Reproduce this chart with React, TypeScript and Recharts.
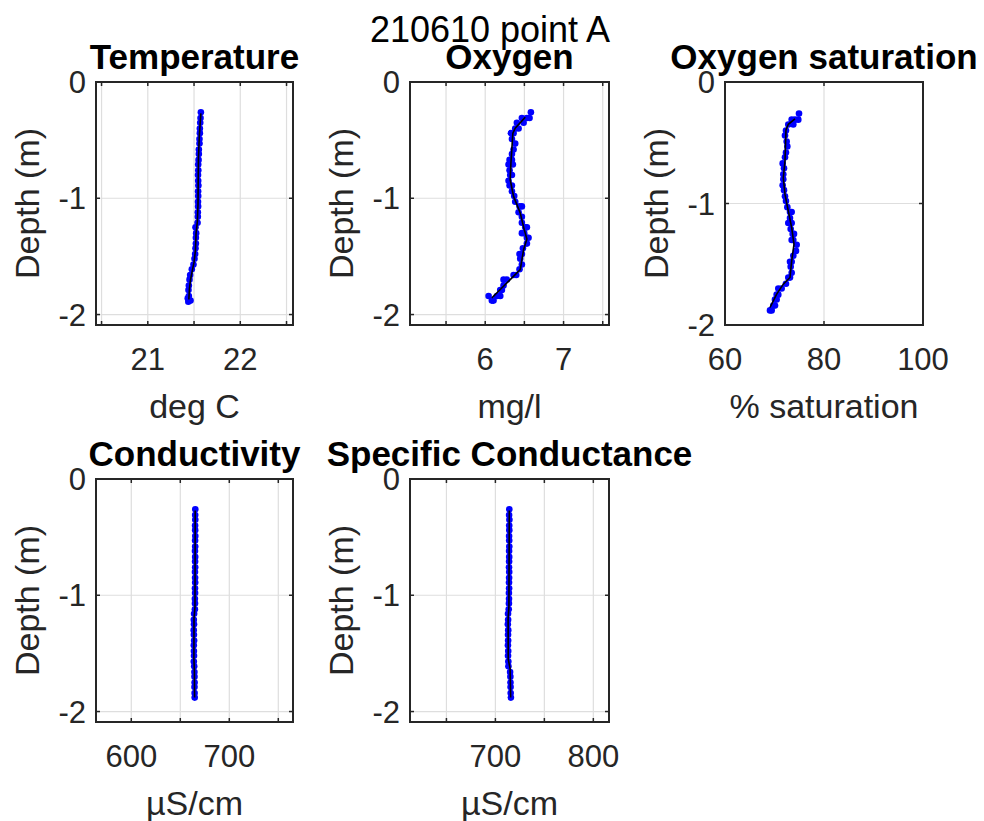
import React from 'react';
import { ScatterChart, Scatter, XAxis, YAxis, CartesianGrid } from 'recharts';

const FONT = '"Liberation Sans", Arial, Helvetica, sans-serif';
const TXT = '#262626';
const DOT = '#0000ff';

// ---------- data ----------
const depths = [-0.26, -0.31, -0.35, -0.40, -0.44, -0.49, -0.53, -0.58, -0.62, -0.67, -0.71, -0.76, -0.80, -0.85, -0.89, -0.94, -0.98, -1.03, -1.07, -1.12, -1.16, -1.21, -1.25, -1.30, -1.34, -1.39, -1.43, -1.48, -1.52, -1.57, -1.61, -1.66, -1.70, -1.75, -1.79, -1.84, -1.88];

const temperature = [21.574, 21.570, 21.567, 21.563, 21.563, 21.559, 21.559, 21.552, 21.552, 21.549, 21.545, 21.546, 21.543, 21.545, 21.547, 21.544, 21.545, 21.543, 21.544, 21.541, 21.541, 21.538, 21.516, 21.523, 21.520, 21.520, 21.516, 21.512, 21.505, 21.494, 21.476, 21.458, 21.451, 21.444, 21.440, 21.444, 21.447];
const tempExtraDepth = [-1.86, -1.88, -1.89];
const tempExtra = [21.432, 21.462, 21.438];
const tempFitDepth = [-0.27, -0.45, -0.65, -0.85, -1.05, -1.20, -1.30, -1.45, -1.55, -1.62, -1.70, -1.78, -1.87];
const tempFit = [21.574, 21.558, 21.548, 21.545, 21.543, 21.536, 21.522, 21.515, 21.500, 21.482, 21.462, 21.450, 21.444];

const oxygenA = [6.583, 6.468, 6.404, 6.383, 6.328, 6.341, 6.383, 6.362, 6.341, 6.311, 6.298, 6.311, 6.319, 6.298, 6.311, 6.341, 6.370, 6.383, 6.438, 6.426, 6.468, 6.468, 6.511, 6.468, 6.553, 6.532, 6.481, 6.438, 6.447, 6.468, 6.438, 6.362, 6.234, 6.234, 6.192, 6.043, 6.085];
const oxygenB = [null, 6.532, 6.490, 6.426, 6.362, null, null, null, null, 6.341, 6.353, null, 6.341, null, 6.341, null, null, null, 6.468, null, null, null, 6.532, 6.498, 6.532, null, null, 6.468, null, null, null, 6.396, 6.277, null, 6.213, 6.149, 6.106];
const oxygenC = [null, 6.566, null, null, null, null, null, null, null, null, null, null, null, null, null, null, null, null, null, null, null, null, null, null, null, null, null, null, null, null, null, null, null, null, null, 6.192, null];
const oxyFitDepth = [-0.303, -0.398, -0.441, -0.698, -0.841, -0.984, -1.127, -1.270, -1.350, -1.442, -1.614, -1.700, -1.785, -1.857];
const oxyFit = [6.511, 6.383, 6.353, 6.328, 6.319, 6.362, 6.447, 6.498, 6.532, 6.490, 6.447, 6.319, 6.192, 6.085];

const saturationA = [74.95, 73.47, 72.79, 72.32, 72.12, 72.46, 72.59, 72.32, 72.12, 71.65, 71.92, 71.78, 71.78, 71.65, 71.92, 72.12, 72.32, 72.59, 73.13, 73.13, 72.79, 73.27, 73.67, 73.47, 74.48, 74.34, 73.80, 73.13, 73.27, 73.47, 72.79, 72.32, 70.77, 70.44, 70.10, 69.76, 69.09];
const saturationB = [null, 74.14, 73.80, null, null, null, null, null, null, null, null, null, null, null, null, null, null, null, 73.47, null, 73.47, null, 73.94, 73.80, null, null, null, 73.47, null, null, 73.13, null, 71.45, 70.77, 70.44, 70.10, 69.43];
const saturationC = [null, 74.81, null, null, null, null, null, null, null, null, null, null, null, null, null, null, null, null, null, null, null, null, null, null, null, null, null, null, null, null, null, null, null, null, null, null, null];
const satFitDepth = [-0.304, -0.348, -0.394, -0.651, -0.788, -0.925, -1.062, -1.199, -1.336, -1.472, -1.609, -1.664, -1.746, -1.856];
const satFit = [74.14, 72.79, 72.32, 72.12, 71.78, 72.12, 72.79, 73.47, 73.94, 73.47, 73.13, 71.78, 70.44, 69.09];

const conductivity = [665.3, 665.2, 665.3, 665.1, 665.2, 665.3, 665.1, 665.2, 665.0, 665.2, 665.1, 665.2, 665.0, 665.1, 665.2, 665.0, 665.1, 664.9, 665.0, 664.9, 664.1, 663.8, 664.0, 663.7, 663.9, 664.1, 663.8, 663.9, 664.0, 663.8, 664.2, 664.4, 664.5, 664.6, 664.5, 664.6, 664.7];
const condFitDepth = [-0.27, -1.10, -1.20, -1.55, -1.65, -1.88];
const condFit = [665.2, 665.0, 664.0, 663.9, 664.4, 664.6];

const specCond = [714.2, 714.0, 714.3, 714.1, 714.2, 714.0, 714.1, 714.2, 714.0, 714.1, 714.0, 713.9, 714.1, 714.0, 713.9, 714.0, 713.8, 713.9, 713.8, 713.6, 712.9, 713.0, 712.7, 713.1, 712.9, 713.0, 712.8, 713.1, 712.9, 713.2, 713.3, 715.0, 715.3, 715.4, 715.5, 715.6, 715.8];
const spcFitDepth = [-0.27, -1.10, -1.20, -1.55, -1.63, -1.88];
const spcFit = [714.2, 713.8, 713.0, 713.1, 715.0, 715.6];

const depthTicks = [0, -1, -2];
const depthTickLabels = ['0', '-1', '-2'];
const tempTicks = [20.5, 21, 21.5, 22, 22.5];
const tempTickLabels = ['', '21', '', '22', ''];
const oxyTicks = [5.5, 6, 6.5, 7, 7.5];
const oxyTickLabels = ['', '6', '', '7', ''];
const satTicks = [60, 80, 100];
const satTickLabels = ['60', '80', '100'];
const condTicks = [600, 650, 700, 750];
const condTickLabels = ['600', '', '700', ''];
const spcTicks = [650, 700, 750, 800];
const spcTickLabels = ['', '700', '', '800'];

const toPts = (vals: (number | null)[], ds: number[]) =>
  vals
    .map((v, i) => (v == null ? null : { x: v, y: ds[i] }))
    .filter((p) => p !== null) as { x: number; y: number }[];

// ---------- layout ----------
const ML = 100;
const MT = 20;
const MR = 50;
const MB = 110;
const TL = 4;

type PanelDef = {
  title: string;
  xLabel: string;
  left: number;
  top: number;
  w: number;
  h: number;
  xDomain: [number, number];
  xTicks: number[];
  xTickLabels: string[];
  yDomain: [number, number];
  dots: { x: number; y: number }[];
  fit: { x: number; y: number }[];
};

const labelOf = (ticks: number[], labels: string[], v: number) => {
  const i = ticks.findIndex((t) => Math.abs(t - v) < 1e-9);
  return i >= 0 ? labels[i] : '';
};

function Panel({ p }: { p: PanelDef }) {
  const XTick = (props: any) => {
    const { x, y, payload } = props;
    const lab = labelOf(p.xTicks, p.xTickLabels, payload.value);
    return (
      <g>
        <line x1={x} x2={x} y1={y} y2={y - TL} stroke={TXT} strokeWidth={1.5} />
        <line x1={x} x2={x} y1={y - p.h} y2={y - p.h + TL} stroke={TXT} strokeWidth={1.5} />
        {lab ? (
          <text x={x} y={y + 45} textAnchor="middle" fontSize={31} fill={TXT} fontFamily={FONT}>
            {lab}
          </text>
        ) : null}
      </g>
    );
  };
  const YTick = (props: any) => {
    const { x, y, payload } = props;
    const lab = labelOf(depthTicks, depthTickLabels, payload.value);
    return (
      <g>
        <line x1={x} x2={x + TL} y1={y} y2={y} stroke={TXT} strokeWidth={1.5} />
        <line x1={x + p.w} x2={x + p.w - TL} y1={y} y2={y} stroke={TXT} strokeWidth={1.5} />
        <text x={x - 10} y={y + 11} textAnchor="end" fontSize={31} fill={TXT} fontFamily={FONT}>
          {lab}
        </text>
      </g>
    );
  };
  return (
    <div style={{ position: 'absolute', left: p.left - ML, top: p.top - MT }}>
      <ScatterChart
        width={p.w + ML + MR}
        height={p.h + MT + MB}
        margin={{ top: MT, right: MR, bottom: 0, left: 0 }}
      >
        <CartesianGrid stroke="#dedede" strokeWidth={1.2} />
        <XAxis
          type="number"
          dataKey="x"
          domain={p.xDomain}
          ticks={p.xTicks}
          interval={0}
          allowDataOverflow
          height={MB}
          axisLine={false}
          tickLine={false}
          tickSize={0}
          tickMargin={0}
          tick={XTick}
        />
        <YAxis
          type="number"
          dataKey="y"
          domain={p.yDomain}
          ticks={depthTicks}
          interval={0}
          allowDataOverflow
          width={ML}
          axisLine={false}
          tickLine={false}
          tickSize={0}
          tickMargin={0}
          tick={YTick}
        />
        <Scatter
          data={p.dots}
          isAnimationActive={false}
          shape={(s: any) => <circle cx={s.cx} cy={s.cy} r={3.3} fill={DOT} />}
        />
        <Scatter
          data={p.fit}
          isAnimationActive={false}
          line={{ stroke: '#000000', strokeWidth: 1.6 }}
          shape={() => <g />}
        />
      </ScatterChart>
    </div>
  );
}

const panels: PanelDef[] = [
  {
    title: 'Temperature',
    xLabel: 'deg C',
    left: 96,
    top: 82,
    w: 197,
    h: 243,
    xDomain: [20.44, 22.57],
    xTicks: tempTicks,
    xTickLabels: tempTickLabels,
    yDomain: [-2.09, 0],
    dots: [...toPts(temperature, depths), ...toPts(tempExtra, tempExtraDepth)],
    fit: toPts(tempFit, tempFitDepth),
  },
  {
    title: 'Oxygen',
    xLabel: 'mg/l',
    left: 410,
    top: 82,
    w: 199,
    h: 243,
    xDomain: [5.04, 7.58],
    xTicks: oxyTicks,
    xTickLabels: oxyTickLabels,
    yDomain: [-2.09, 0],
    dots: [...toPts(oxygenA, depths), ...toPts(oxygenB, depths), ...toPts(oxygenC, depths)],
    fit: toPts(oxyFit, oxyFitDepth),
  },
  {
    title: 'Oxygen saturation',
    xLabel: '% saturation',
    left: 725,
    top: 82,
    w: 198,
    h: 243,
    xDomain: [60, 100],
    xTicks: satTicks,
    xTickLabels: satTickLabels,
    yDomain: [-2, 0],
    dots: [...toPts(saturationA, depths), ...toPts(saturationB, depths), ...toPts(saturationC, depths)],
    fit: toPts(satFit, satFitDepth),
  },
  {
    title: 'Conductivity',
    xLabel: 'µS/cm',
    left: 96,
    top: 479,
    w: 197,
    h: 243,
    xDomain: [564, 765],
    xTicks: condTicks,
    xTickLabels: condTickLabels,
    yDomain: [-2.09, 0],
    dots: toPts(conductivity, depths),
    fit: toPts(condFit, condFitDepth),
  },
  {
    title: 'Specific Conductance',
    xLabel: 'µS/cm',
    left: 410,
    top: 479,
    w: 199,
    h: 243,
    xDomain: [612.8, 816],
    xTicks: spcTicks,
    xTickLabels: spcTickLabels,
    yDomain: [-2.09, 0],
    dots: toPts(specCond, depths),
    fit: toPts(spcFit, spcFitDepth),
  },
];

export default function App() {
  return (
    <div style={{ position: 'absolute', left: 0, top: 0, width: 984, height: 821, background: '#ffffff', overflow: 'hidden' }}>
      {panels.map((p) => (
        <Panel key={p.title} p={p} />
      ))}
      <svg
        width={984}
        height={821}
        style={{ position: 'absolute', left: 0, top: 0, pointerEvents: 'none' }}
      >
        <text x={490} y={42} textAnchor="middle" fontSize={36} fill="#000" fontFamily={FONT}>
          210610 point A
        </text>
        {panels.map((p) => (
          <g key={p.title}>
            <rect x={p.left} y={p.top} width={p.w} height={p.h} fill="none" stroke={TXT} strokeWidth={2} />
            <text
              x={p.left + p.w / 2}
              y={p.top - 13}
              textAnchor="middle"
              fontSize={35}
              fontWeight="bold"
              fill="#000"
              fontFamily={FONT}
            >
              {p.title}
            </text>
            <text
              x={p.left + p.w / 2}
              y={p.top + p.h + 93}
              textAnchor="middle"
              fontSize={34}
              fill={TXT}
              fontFamily={FONT}
            >
              {p.xLabel}
            </text>
            <text
              transform={`translate(${p.left - 57}, ${p.top + p.h / 2}) rotate(-90)`}
              textAnchor="middle"
              fontSize={34}
              fill={TXT}
              fontFamily={FONT}
            >
              Depth (m)
            </text>
          </g>
        ))}
      </svg>
    </div>
  );
}
